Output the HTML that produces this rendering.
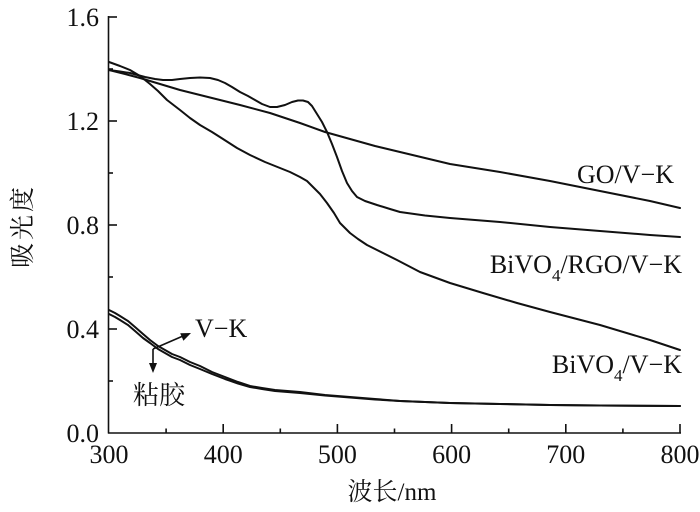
<!DOCTYPE html>
<html><head><meta charset="utf-8"><style>
html,body{margin:0;padding:0;background:#fff;}
svg{display:block;}
</style></head><body>
<svg width="700" height="512" viewBox="0 0 700 512" xmlns="http://www.w3.org/2000/svg">
<g stroke="#111" stroke-width="1.6" fill="none">
<line x1="108.5" y1="16" x2="108.5" y2="433.5"/>
<line x1="108" y1="433" x2="681" y2="433"/>
<!-- y ticks -->
<line x1="108.5" y1="17" x2="117" y2="17"/>
<line x1="108.5" y1="121" x2="117" y2="121"/>
<line x1="108.5" y1="225" x2="117" y2="225"/>
<line x1="108.5" y1="329" x2="117" y2="329"/>
<line x1="108.5" y1="69" x2="113" y2="69"/>
<line x1="108.5" y1="173" x2="113" y2="173"/>
<line x1="108.5" y1="277" x2="113" y2="277"/>
<line x1="108.5" y1="381" x2="113" y2="381"/>
<!-- x ticks -->
<line x1="223.2" y1="433" x2="223.2" y2="424"/>
<line x1="337.4" y1="433" x2="337.4" y2="424"/>
<line x1="451.6" y1="433" x2="451.6" y2="424"/>
<line x1="565.8" y1="433" x2="565.8" y2="424"/>
<line x1="680" y1="433" x2="680" y2="424"/>
<line x1="166.1" y1="433" x2="166.1" y2="428.5"/>
<line x1="280.3" y1="433" x2="280.3" y2="428.5"/>
<line x1="394.5" y1="433" x2="394.5" y2="428.5"/>
<line x1="508.7" y1="433" x2="508.7" y2="428.5"/>
<line x1="622.9" y1="433" x2="622.9" y2="428.5"/>
</g>
<g stroke="#111" stroke-width="2" fill="none" stroke-linejoin="round" stroke-linecap="round">
<!-- GO/V-K -->
<polyline points="109,70 125,74 140,78 160,84 180,90 200,95 220,100 240,105 270,113 300,123 325,132 350,139 375,146 400,152 425,158 450,164 475,168 500,172 550,181 600,191 650,201 680,208"/>
<!-- BiVO4/RGO/V-K -->
<polyline points="109,70 120,71.5 130,73 145,77 155,79 163,80 172,80 180,79 190,78 200,77.5 210,78 218,80 225,83 232,87 240,92 248,96 255,100 262,104 270,107 277,107 285,105 292,102 298,100.5 303,100.5 308,102 312,106 317,114 322,122 327,132 332,144 337,157 342,171 347,183 352,191 357,197 365,201 377,205 390,209 400,212 425,215.5 450,218 475,220 500,222 550,227 600,231 650,235 680,237"/>
<!-- BiVO4/V-K -->
<polyline points="109,62 120,66 130,70 140,76 150,84 158,91 167,100 180,110 190,118 200,125 212,132 223,139 237,148 250,155 265,162 280,168 290,172 300,177 307,181 313,187 320,194 327,203 334,213 340,223 345,228 350,233 358,239 367,245 375,249 383,253 397,260 420,272 450,283 483,293 517,303 550,312 600,325 650,340 680,350"/>
<!-- V-K -->
<polyline points="109,310 115,313 120,316 128,321 135,327 143,334 150,340 158,346 165,350 172,354 180,357 190,362 200,366 212,372 225,377 238,382 250,386 262,388 275,390 300,392 325,395 350,397 375,399 400,401 450,403 500,404 550,405 600,405.5 680,406"/>
<!-- 粘胶 -->
<polyline points="109,314 115,317 120,320 128,325 135,331 143,338 150,343 158,349 165,353 172,357 180,360 190,365 200,369 212,374 225,379 238,383.5 250,387 262,389 275,391 300,393 325,395.5 350,397.5 375,399.5 400,401 450,403 500,404 550,405 600,405.5 680,406"/>
</g>
<!-- arrows -->
<g stroke="#111" stroke-width="1.6" fill="none">
<line x1="153" y1="349" x2="183" y2="336"/>
<line x1="153" y1="349" x2="153" y2="364"/>
</g>
<g fill="#111">
<polygon points="191,333 183.4,340.7 180.2,333.3"/>
<polygon points="153,373 149,363 157,363"/>
</g>
<!-- tick labels -->
<g font-family="'Liberation Serif', serif" font-size="26" fill="#111" text-anchor="end">
<text x="99" y="26">1.6</text>
<text x="99" y="130">1.2</text>
<text x="99" y="234">0.8</text>
<text x="99" y="338">0.4</text>
<text x="99" y="442">0.0</text>
</g>
<g font-family="'Liberation Serif', serif" font-size="26" fill="#111" text-anchor="middle">
<text x="109" y="463">300</text>
<text x="223.2" y="463">400</text>
<text x="337.4" y="463">500</text>
<text x="451.6" y="463">600</text>
<text x="565.8" y="463">700</text>
<text x="680" y="463">800</text>
</g>
<!-- axis titles -->
<text x="392" y="500" text-anchor="middle" font-family="'Liberation Serif', 'Noto Serif CJK SC', serif" font-size="25" fill="#111">波长/nm</text>
<text transform="translate(31,226) rotate(-90)" text-anchor="middle" font-family="'Liberation Serif', 'Noto Serif CJK SC', serif" font-size="25" letter-spacing="3" fill="#111">吸光度</text>
<!-- series labels -->
<g font-family="'Liberation Serif', serif" font-size="26" fill="#111">
<text x="674" y="183" text-anchor="end">GO/V−K</text>
<text x="682" y="273" text-anchor="end">BiVO<tspan font-size="17" dy="8">4</tspan><tspan dy="-8">/RGO/V−K</tspan></text>
<text x="682" y="373" text-anchor="end">BiVO<tspan font-size="17" dy="8">4</tspan><tspan dy="-8">/V−K</tspan></text>
<text x="195" y="337">V−K</text>
</g>
<text x="133" y="404" font-family="'Liberation Serif', 'Noto Serif CJK SC', serif" font-size="26" fill="#111">粘胶</text>
</svg>
</body></html>
